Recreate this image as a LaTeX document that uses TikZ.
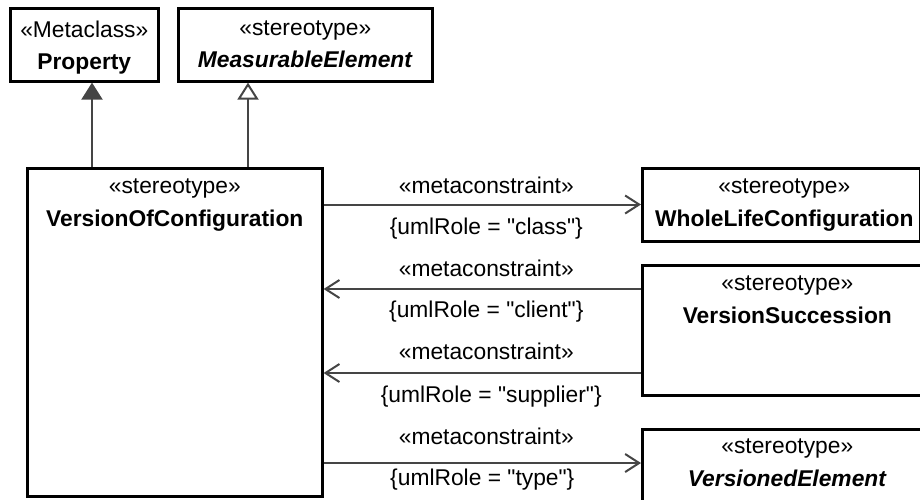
\documentclass[tikz,border=0pt]{standalone}
\usepackage{fontspec}
\setmainfont{Liberation Sans}
\usetikzlibrary{arrows.meta,positioning}
\definecolor{linkgray}{gray}{0.27}
\newcommand{\qt}[1]{\textquotedbl#1\textquotedbl}
\begin{document}
\begin{tikzpicture}[x=1pt,y=-1pt,
        box/.style={draw=black,line width=2.6pt,fill=white,inner sep=0pt,anchor=north west},
        txt/.style={align=center,inner sep=0pt,font=\fontsize{22.8}{33}\selectfont},
        lbl/.style={inner sep=0pt,font=\fontsize{22.8}{27}\selectfont},
        link/.style={draw=linkgray,line width=2pt},
        gen/.style={link,-{Triangle[width=21pt,length=17pt,fill=linkgray]}},
        real/.style={link,-{Triangle[open,width=21pt,length=17pt]}},
        dep/.style={link,-{Straight Barb[width=18pt,length=14pt]}}]
            \useasboundingbox (0,0) rectangle (920,499);
            \node [box,minimum width=148,minimum height=73] (prop) at (9,7) {};
            \node [box,minimum width=254,minimum height=73] (meas) at (177,7) {};
            \node [box,minimum width=295,minimum height=328] (voc) at (26,167) {};
            \node [box,minimum width=278,minimum height=73] (wlc) at (641,167) {};
            \node [box,minimum width=290,minimum height=130] (vsucc) at (641,264) {};
            \node [box,minimum width=290,minimum height=80] (vel) at (641,428) {};
            \node [txt,below=14pt of prop.north] (propT) {«Metaclass»\\[-1pt]\textbf{Property}};
            \node [txt,below=14pt of meas.north] (measT) {«stereotype»\\[-1pt]\textbf{\textit{MeasurableElement}}};
            \node [txt,below=12pt of voc.north] (vocT) {«stereotype»\\\textbf{VersionOfConfiguration}};
            \node [txt,below=12pt of wlc.north,xshift=3pt] (wlcT) {«stereotype»\\\textbf{WholeLifeConfiguration}};
            \node [txt,below=12pt of vsucc.north] (vsuccT) {«stereotype»\\\textbf{VersionSuccession}};
            \node [txt,below=11pt of vel.north] (velT) {«stereotype»\\\textbf{\textit{VersionedElement}}};
            \coordinate (g1) at (92,0);
            \coordinate (g2) at (248,0);
            \coordinate (r1) at (0,204.5);
            \coordinate (r2) at (0,289);
            \coordinate (r3) at (0,373);
            \coordinate (r4) at (0,463);
            \draw [gen] (g1 |- voc.north) -- (g1 |- prop.south);
            \draw [real] (g2 |- voc.north) -- (g2 |- meas.south);
            \draw [dep] (voc.east |- r1) -- node [lbl,above=10pt,xshift=4pt] {«metaconstraint»} node [lbl,below=12pt,xshift=4pt] {\{umlRole = \qt{class}\}} (wlc.west |- r1);
            \draw [dep] (vsucc.west |- r2) -- node [lbl,above=11pt,xshift=4pt] {«metaconstraint»} node [lbl,below=11pt,xshift=4pt] {\{umlRole = \qt{client}\}} (voc.east |- r2);
            \draw [dep] (vsucc.west |- r3) -- node [lbl,above=12pt,xshift=4pt] {«metaconstraint»} node [lbl,below=12pt,xshift=9pt] {\{umlRole = \qt{supplier}\}} (voc.east |- r3);
            \draw [dep] (voc.east |- r4) -- node [lbl,above=17pt,xshift=4pt] {«metaconstraint»} node [lbl,below=5pt] {\{umlRole = \qt{type}\}} (vel.west |- r4);
        \end{tikzpicture}
\end{document}
